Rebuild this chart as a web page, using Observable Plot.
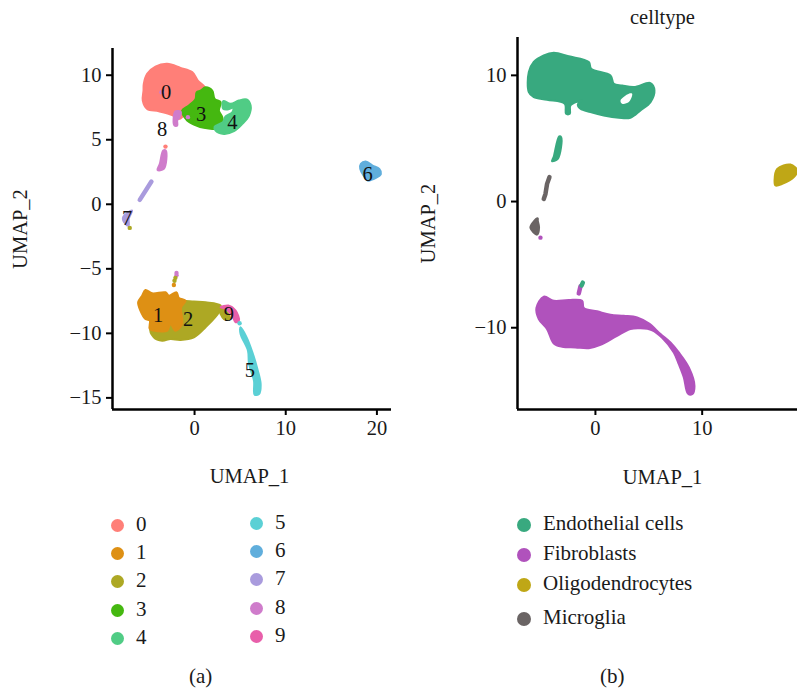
<!DOCTYPE html>
<html><head><meta charset="utf-8">
<script src="https://cdn.jsdelivr.net/npm/d3@7"></script>
<script src="https://cdn.jsdelivr.net/npm/@observablehq/plot@0.6"></script>
<style>
html,body{margin:0;padding:0;background:#fff;width:797px;height:693px;overflow:hidden}
body{position:relative;font-family:"Liberation Serif",serif;color:#1a1a1a}
#a,#b{position:absolute;top:0}
#a{left:0}#b{left:400px}
.t{position:absolute;font-size:21px;line-height:24px;white-space:nowrap}
.d{position:absolute;width:13px;height:13px;border-radius:50%}
</style></head><body>
<div id="a"></div><div id="b"></div>
<script>
const FONT='"Liberation Serif",serif';
const clusterNames=["0","1","2","3","4","5","6","7","8","9"];
const clusterColors=["#FF7F78","#DE9014","#ADA824","#45B810","#50CC85","#5BD0D5","#60AEDC","#A99BDD","#CF7CCB","#E85FAA"];
const typeNames=["Endothelial cells","Fibroblasts","Oligodendrocytes","Microglia"];
const typeColors=["#38A97F","#B052BC","#BFA716","#6A6464"];

// Panel (a) cluster outlines, UMAP coordinates
const c0=[[-5.57,9.33],[-5.2,10.11],[-4.29,10.67],[-3,10.88],[-1.54,10.57],[-.26,10.24],[.36,9.59],[1.21,8.94],[.29,8.43],[-.44,7.78],[-1.18,6.88],[-1.72,6.62],[-2.4,6.9],[-3.92,7.21],[-5.2,7.39],[-5.68,8.04],[-5.6,8.81]];
const c3=[[1.21,9.07],[1.94,8.81],[2.2,8.17],[2.86,7.91],[2.67,7.26],[3.04,6.75],[3.04,6.1],[2.12,5.84],[1.02,5.92],[-.07,6.18],[-.81,6.49],[-1.36,7.26],[-.62,7.65],[.11,8.17],[.22,8.68],[.66,8.81]];
const c4=[[3.15,7.99],[3.95,7.78],[4.87,8.04],[5.71,8.12],[6.15,7.65],[5.97,6.88],[5.24,6.23],[4.32,5.66],[3.22,5.45],[2.31,5.71],[2.2,6.02],[3.11,6.36],[3.4,6.8],[4.14,7.13],[4.25,7.47],[3.59,7.34],[3.15,7.39]];
const c8top=[[-2.09,7.2],[-1.5,7.15],[-1.7,6.69],[-1.9,6.49],[-1.9,6.1],[-2.2,6.1],[-2.3,6.62]];
const c8mid=[[-3.44,4.16],[-3.15,4.16],[-3.37,2.74],[-4.07,2.66],[-3.81,3.13]];
const c7low=[[-6.85,-.49],[-7.84,-1],[-7.58,-1.52],[-7.22,-1.65],[-7.22,-1.13]];
const c7chain=[[-4.73,1.76],[-6.01,.34]];
const c6=[[18.24,3.13],[18.79,3.31],[19.52,3],[20.26,2.74],[20.44,2.35],[19.89,2.04],[18.97,1.84],[18.53,2.24],[18.17,2.74]];
const c2=[[-2,-7.6],[-1.36,-7.47],[-.07,-7.54],[1.21,-7.59],[2.86,-7.85],[2.67,-8.37],[1.21,-9.53],[-.07,-10.31],[-1.54,-10.51],[-2.64,-10.44],[-3.55,-10.57],[-4.47,-10.31],[-4.84,-9.53]];
const c2b=[[2.67,-7.98],[3.59,-8.37],[3.88,-8.89],[3.22,-8.89],[2.86,-8.5]];
const c1=[[-5.39,-6.64],[-4.65,-6.9],[-3.19,-6.82],[-2.82,-7.08],[-1.98,-6.82],[-1.72,-7.26],[-.99,-7.47],[-1.47,-7.98],[-1.36,-9.27],[-2.09,-9.79],[-2.64,-9.27],[-3,-9.79],[-3.92,-9.84],[-4.91,-9.66],[-4.91,-9],[-5.39,-8.89],[-5.94,-8.24],[-6.19,-7.59],[-5.75,-7.08]];
const c9=[[2.86,-7.98],[3.77,-7.85],[4.5,-8.24],[4.87,-9],[4.5,-9.14],[4.14,-8.63],[3.4,-8.11]];
const c5=[[5.05,-9.53],[5.71,-10.31],[6.34,-11.47],[6.89,-12.76],[7.25,-13.93],[7.07,-14.7],[6.59,-14.75],[6.52,-13.67],[5.97,-12.37],[5.86,-11.34],[5.05,-10.05]];
const aDots=[["0",-3.19,4.47],["8",-.73,6.75],["8",-3.63,8.68],["2",-7.11,-1.83],["5",4.94,-9.22],["8",-1.98,-5.32],["8",-1.98,-5.5],["2",-2.1,-5.7],["2",-2.2,-5.92],["1",-2.27,-6.25]];
const aLabels=[["0",-3.12,8.68],["1",-3.99,-8.58],["2",-.7,-8.96],["3",.73,6.95],["4",4.14,6.31],["5",6.08,-12.84],["6",18.97,2.35],["7",-7.4,-1.06],["8",-3.55,5.79],["9",3.77,-8.55]];

// Panel (b) cell-type outlines, UMAP coordinates
const endo=[[-6.24,10.26],[-5.78,11.06],[-4.84,11.59],[-3.9,11.8],[-2.5,11.51],[-.62,11.06],[-.4,10.53],[1.41,10],[1.72,9.34],[2.5,9.2],[3.6,9.07],[5.16,9.39],[5.53,8.81],[5.16,7.88],[4.22,7.22],[3.28,6.64],[2.19,6.64],[.78,6.82],[-.47,7.09],[-1.4,7.35],[-1.65,7.7],[-1.25,8.01],[-2.34,7.62],[-2.4,6.95],[-2.75,6.95],[-2.87,7.75],[-4.53,8.07],[-5.78,8.28],[-6.24,8.67]];
const endoHole=[[2.35,8.01],[3.13,8.54],[3.44,8.54],[3.13,7.88],[2.5,7.75]];
const endoChain=[[-3.4,5.16],[-3.21,5.1],[-3.53,3.38],[-4.06,3.2],[-3.9,3.57]];
const fibro=[[-4.84,-7.54],[-3.9,-7.86],[-2.5,-7.8],[-1.25,-7.86],[-1.09,-8.44],[.16,-8.7],[1.41,-8.97],[2.66,-9.05],[3.91,-9.18],[5,-9.66],[6.1,-10.5],[7.03,-11.17],[7.81,-11.96],[8.75,-13.15],[9.28,-14.61],[9.06,-15.27],[8.66,-15.21],[8.28,-13.94],[7.81,-12.89],[7.34,-11.96],[6.25,-10.8],[5.31,-10.2],[4.22,-10.05],[3.28,-10.11],[2.03,-10.64],[.47,-11.35],[-.62,-11.62],[-1.87,-11.56],[-3.12,-11.51],[-3.9,-11.25],[-4.53,-10.11],[-5.31,-9.31],[-5.53,-8.44]];
const fibroStem=[[-1.4,-6.72],[-1.56,-7.28]];
const endoStem=[[-1.18,-6.43],[-1.3,-6.65]];
const oligo=[[17.03,2.59],[18.28,2.93],[18.9,2.46],[18.59,1.93],[17.5,1.4],[16.87,1.27],[16.78,1.66]];
const microChain=[[-4.31,1.93],[-4.53,1.4],[-4.68,.6],[-4.84,.21]];
const microLow=[[-5.4,-1.33],[-5.84,-1.65],[-6.09,-2.09],[-5.46,-2.62],[-5.28,-2.04],[-5.4,-1.51]];
const bDots=[["Fibroblasts",-5.15,-2.86]];

function rows(parts){return parts.flatMap(([group,pts],i)=>pts.map(([x,y])=>({part:i,group,x,y})));}
const aPolys=rows([["0",c0],["3",c3],["4",c4],["8",c8top],["8",c8mid],["7",c7low],["6",c6],["2",c2],["2",c2b],["1",c1],["9",c9],["5",c5]]);
const aChains=rows([["7",c7chain]]);
const bPolys=rows([["Endothelial cells",endo],["Endothelial cells",endoChain],["Fibroblasts",fibro],["Oligodendrocytes",oligo],["Microglia",microLow]]);
const bChains=rows([["Microglia",microChain],["Fibroblasts",fibroStem],["Endothelial cells",endoStem]]);

function panel(o){
  return Plot.plot({
    width:o.width,height:500,marginTop:o.top,marginBottom:91,marginLeft:o.left,marginRight:o.right,
    style:{fontFamily:FONT,fontSize:"20.5px",color:"#1a1a1a",background:"transparent"},
    x:{domain:o.xd},y:{domain:o.yd},
    color:{domain:o.names,range:o.colors},
    marks:[
      Plot.line(o.polys,{x:"x",y:"y",z:"part",fill:"group",stroke:"group",strokeWidth:2,curve:"catmull-rom-closed",strokeLinejoin:"round"}),
      ...(o.hole?[Plot.line(o.hole,{x:d=>d[0],y:d=>d[1],fill:"white",stroke:"none",curve:"catmull-rom-closed"})]:[]),
      Plot.line(o.chains,{x:"x",y:"y",z:"part",stroke:"group",strokeWidth:4.5,strokeLinecap:"round"}),
      Plot.dot(o.dots,{x:d=>d[1],y:d=>d[2],fill:d=>d[0],r:2.2}),
      ...(o.labels?[Plot.text(o.labels,{x:d=>d[1],y:d=>d[2],text:d=>d[0],fill:"#111",fontSize:20.5})]:[]),
      Plot.ruleX([o.xd[0]],{stroke:"#000",strokeWidth:2.5}),
      Plot.ruleY([o.yd[0]],{stroke:"#000",strokeWidth:2.5}),
      Plot.axisX({ticks:o.xt,tickSize:6,tickPadding:5,strokeWidth:2,stroke:"#000",label:null}),
      Plot.axisY({ticks:o.yt,tickSize:6,tickPadding:5,strokeWidth:2,stroke:"#000",label:null}),
      Plot.text(["UMAP_1"],{frameAnchor:"bottom",lineAnchor:"middle",dx:o.xdx,dy:o.xdy,fill:"#1a1a1a",fontSize:20.5}),
      Plot.text(["UMAP_2"],{frameAnchor:"left",textAnchor:"middle",lineAnchor:"middle",rotate:-90,dx:o.ydx,fill:"#1a1a1a",fontSize:20.5})
    ]
  });
}
document.getElementById("a").append(panel({width:400,top:48,left:112,right:9,xd:[-9,21.6],yd:[-15.9,12.07],xt:[0,10,20],yt:[-15,-10,-5,0,5,10],names:clusterNames,colors:clusterColors,polys:aPolys,chains:aChains,dots:aDots,labels:aLabels,xdx:-2.5,xdy:67,ydx:-92}));
document.getElementById("b").append(panel({width:397,top:37,left:117,right:0,xd:[-7.3,18.93],yd:[-16.48,13],xt:[0,10],yt:[-10,0,10],names:typeNames,colors:typeColors,polys:bPolys,chains:bChains,dots:bDots,hole:endoHole,xdx:5,xdy:68,ydx:-89}));

function add(cls,txt,css){const e=document.createElement("div");e.className=cls;if(txt)e.textContent=txt;Object.assign(e.style,css);document.body.append(e);}
const legendA=[[117,525],[117,553],[117,581],[117,610],[117,638],[256,523],[256,551],[256,579],[256,608],[256,636]];
clusterNames.forEach((n,i)=>{const [x,y]=legendA[i];
  add("d","",{left:(x-6.5)+"px",top:(y-6.5)+"px",background:clusterColors[i]});
  add("t",n,{left:(x+19)+"px",top:(y-13)+"px"});});
const legendB=[524,554,584,618];
typeNames.forEach((n,i)=>{const y=legendB[i];
  add("d","",{left:"516.5px",top:(y-6.5)+"px",background:typeColors[i],width:"14px",height:"14px"});
  add("t",n,{left:"543px",top:(y-13)+"px"});});
add("t","(a)",{left:"189px",top:"664px"});
add("t","(b)",{left:"600px",top:"664px"});
add("t","celltype",{left:"630px",top:"5px",fontSize:"20.5px"});
</script>
</body></html>
